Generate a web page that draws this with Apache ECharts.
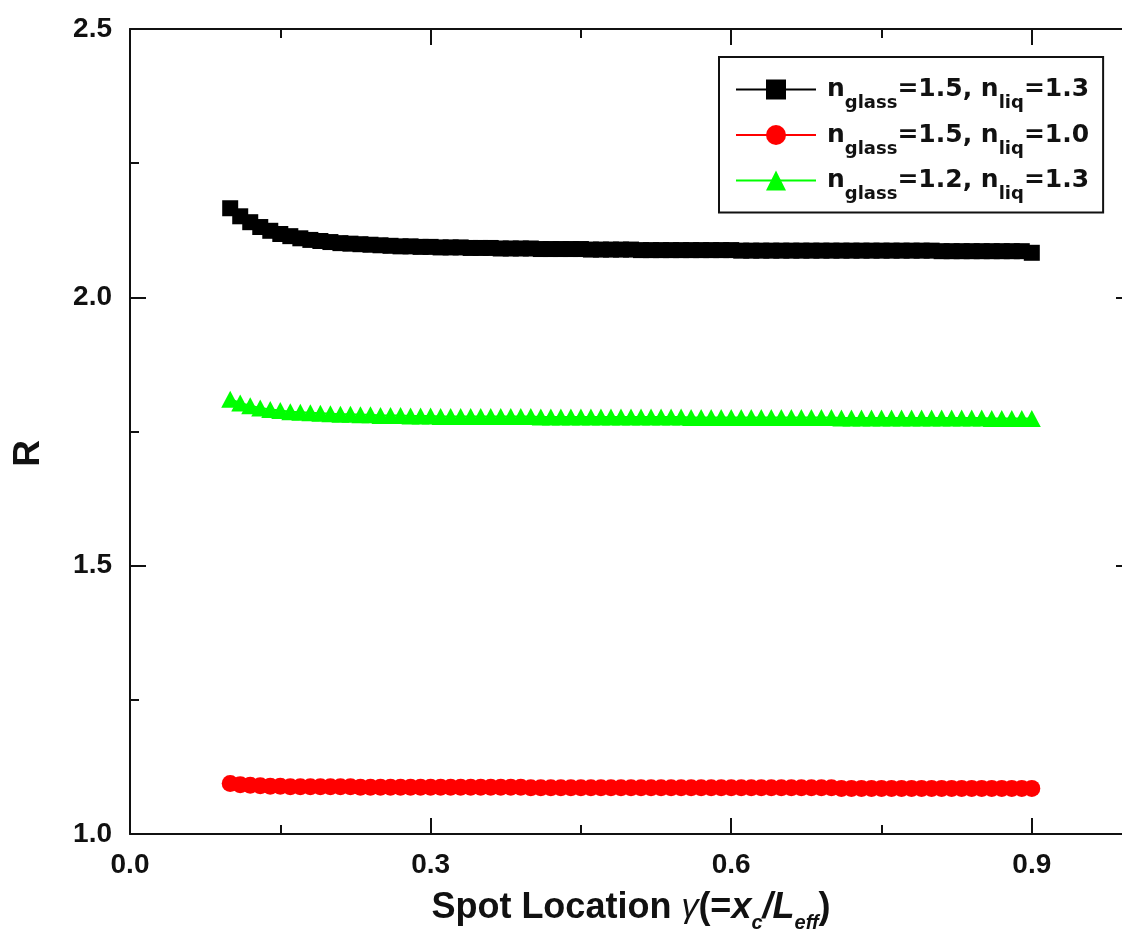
<!DOCTYPE html>
<html>
<head>
<meta charset="utf-8">
<script src="https://cdn.jsdelivr.net/npm/echarts@6/dist/echarts.min.js"></script>
<style>html,body{margin:0;padding:0;background:#fff;}#c{width:1122px;height:938px;}</style>
</head>
<body>
<div id="c"></div>
<script>
const xValues = [0.10,0.11,0.12,0.13,0.14,0.15,0.16,0.17,0.18,0.19,
  0.20,0.21,0.22,0.23,0.24,0.25,0.26,0.27,0.28,0.29,
  0.30,0.31,0.32,0.33,0.34,0.35,0.36,0.37,0.38,0.39,
  0.40,0.41,0.42,0.43,0.44,0.45,0.46,0.47,0.48,0.49,
  0.50,0.51,0.52,0.53,0.54,0.55,0.56,0.57,0.58,0.59,
  0.60,0.61,0.62,0.63,0.64,0.65,0.66,0.67,0.68,0.69,
  0.70,0.71,0.72,0.73,0.74,0.75,0.76,0.77,0.78,0.79,
  0.80,0.81,0.82,0.83,0.84,0.85,0.86,0.87,0.88,0.89,0.90];
const blackR = [2.166,2.151,2.140,2.131,2.124,2.118,2.114,2.110,2.107,2.105,
  2.103,2.101,2.100,2.099,2.098,2.097,2.096,2.095,2.095,2.094,
  2.094,2.093,2.093,2.093,2.092,2.092,2.092,2.091,2.091,2.091,
  2.091,2.090,2.090,2.090,2.090,2.090,2.089,2.089,2.089,2.089,
  2.089,2.088,2.088,2.088,2.088,2.088,2.088,2.088,2.088,2.088,
  2.088,2.087,2.087,2.087,2.087,2.087,2.087,2.087,2.087,2.087,
  2.087,2.087,2.087,2.087,2.087,2.087,2.087,2.087,2.087,2.087,
  2.087,2.086,2.086,2.086,2.086,2.086,2.086,2.086,2.086,2.086,2.083];
const redR = [1.094,1.092,1.091,1.090,1.089,1.089,1.088,1.088,1.088,1.088,
  1.088,1.088,1.088,1.087,1.087,1.087,1.087,1.087,1.087,1.087,
  1.087,1.087,1.087,1.087,1.087,1.087,1.087,1.087,1.087,1.087,
  1.086,1.086,1.086,1.086,1.086,1.086,1.086,1.086,1.086,1.086,
  1.086,1.086,1.086,1.086,1.086,1.086,1.086,1.086,1.086,1.086,
  1.086,1.086,1.086,1.086,1.086,1.086,1.086,1.086,1.086,1.086,
  1.086,1.085,1.085,1.085,1.085,1.085,1.085,1.085,1.085,1.085,
  1.085,1.085,1.085,1.085,1.085,1.085,1.085,1.085,1.085,1.085,1.085];
const greenR = [1.810,1.803,1.798,1.794,1.791,1.789,1.787,1.786,1.785,1.784,
  1.783,1.782,1.782,1.781,1.781,1.780,1.780,1.780,1.779,1.779,
  1.779,1.778,1.778,1.778,1.778,1.778,1.778,1.778,1.778,1.778,
  1.778,1.777,1.777,1.777,1.777,1.777,1.777,1.777,1.777,1.777,
  1.777,1.777,1.777,1.777,1.777,1.777,1.776,1.776,1.776,1.776,
  1.776,1.776,1.776,1.776,1.776,1.776,1.776,1.776,1.776,1.776,
  1.776,1.775,1.775,1.775,1.775,1.775,1.775,1.775,1.775,1.775,
  1.775,1.775,1.775,1.775,1.775,1.775,1.774,1.774,1.774,1.774,1.774];
const seriesNames = ['s1','s2','s3'];
const legendLabels = {
  s1: ['1.5','1.3'],
  s2: ['1.5','1.0'],
  s3: ['1.2','1.3']
};
const xTicks = [0.0, 0.3, 0.6, 0.9];
const yTicks = [1.0, 1.5, 2.0, 2.5];

const FONT = '"Liberation Sans", Arial, sans-serif';
const WIDE = '"DejaVu Sans", sans-serif';
const pair = (xs, ys) => xs.map((x, i) => [x, ys[i]]);

const axisCommon = {
  axisLine: {show: true, onZero: false, lineStyle: {color: '#111', width: 2}},
  axisTick: {show: true, inside: true, length: 16, lineStyle: {color: '#111', width: 2}},
  minorTick: {show: true, splitNumber: 2, length: 9, lineStyle: {color: '#111', width: 2}},
  splitLine: {show: false},
  minorSplitLine: {show: false}
};

const chart = echarts.init(document.getElementById('c'), null, {renderer: 'canvas'});
const option = {
  animation: false,
  backgroundColor: '#fff',
  grid: {left: 130, top: 29, width: 1002, bottom: 104, containLabel: false, outerBoundsMode: 'none'},
  xAxis: [
    Object.assign({}, axisCommon, {
      type: 'value', min: 0, max: 1.0, interval: 0.3, position: 'bottom',
      axisLabel: {show: true, margin: 17, color: '#111', fontFamily: FONT, fontWeight: 'bold', fontSize: 28,
        showMaxLabel: false, formatter: v => xTicks.some(t => Math.abs(t - v) < 1e-9) ? v.toFixed(1) : ''},
      name: '{b|Spot Location }{g|γ}{b|(=}{i|x}{sub|c}{i|/L}{sub|eff}{b|)}',
      nameLocation: 'middle', nameGap: 49,
      nameTextStyle: {
        rich: {
          b: {fontFamily: FONT, fontWeight: 'bold', fontSize: 36, color: '#111', lineHeight: 50},
          g: {fontFamily: FONT, fontStyle: 'italic', fontSize: 34, color: '#111', lineHeight: 50},
          i: {fontFamily: FONT, fontWeight: 'bold', fontStyle: 'italic', fontSize: 36, color: '#111', lineHeight: 50},
          sub: {fontFamily: FONT, fontWeight: 'bold', fontStyle: 'italic', fontSize: 20, color: '#111', lineHeight: 10, verticalAlign: 'bottom'}
        }
      }
    }),
    Object.assign({}, axisCommon, {
      type: 'value', min: 0, max: 1.0, interval: 0.3, position: 'top',
      axisLabel: {show: false}
    })
  ],
  yAxis: [
    Object.assign({}, axisCommon, {
      type: 'value', min: 1.0, max: 2.5, interval: 0.5, position: 'left',
      axisLabel: {show: true, margin: 18, color: '#111', fontFamily: FONT, fontWeight: 'bold', fontSize: 28,
        formatter: v => yTicks.some(t => Math.abs(t - v) < 1e-9) ? v.toFixed(1) : ''},
      name: 'R', nameLocation: 'middle', nameGap: 83,
      nameTextStyle: {fontFamily: FONT, fontWeight: 'bold', fontSize: 37, color: '#111', padding: [0, 44, 0, 0]}
    }),
    Object.assign({}, axisCommon, {
      type: 'value', min: 1.0, max: 2.5, interval: 0.5, position: 'right',
      axisLabel: {show: false}
    })
  ],
  legend: {
    left: 719, top: 57,
    orient: 'vertical',
    backgroundColor: '#fff',
    borderColor: '#111', borderWidth: 2, borderRadius: 0,
    padding: [20, 14, 9, 16],
    itemGap: 10,
    itemWidth: 80, itemHeight: 25,
    data: seriesNames,
    formatter: name => {
      const l = legendLabels[name];
      return '{n|n}{s|glass}{n|=' + l[0] + ', n}{s|liq}{n|=' + l[1] + '}';
    },
    textStyle: {
      padding: [0, 0, 0, 6],
      rich: {
        n: {fontFamily: WIDE, fontWeight: 'bold', fontSize: 25, color: '#111', lineHeight: 46},
        s: {fontFamily: WIDE, fontWeight: 'bold', fontSize: 18, color: '#111', lineHeight: 14, verticalAlign: 'bottom'}
      }
    }
  },
  series: [
    {name: 's1', type: 'line', data: pair(xValues, blackR), symbol: 'rect', symbolSize: 16,
      itemStyle: {color: '#000'}, lineStyle: {color: '#000', width: 2}},
    {name: 's2', type: 'line', data: pair(xValues, redR), symbol: 'circle', symbolSize: 17,
      itemStyle: {color: '#ff0000'}, lineStyle: {color: '#ff0000', width: 2}},
    {name: 's3', type: 'line', data: pair(xValues, greenR), symbol: 'triangle', symbolSize: [18, 17],
      itemStyle: {color: '#00ff00'}, lineStyle: {color: '#00ff00', width: 2}}
  ]
};
chart.setOption(option);
</script>
</body>
</html>
